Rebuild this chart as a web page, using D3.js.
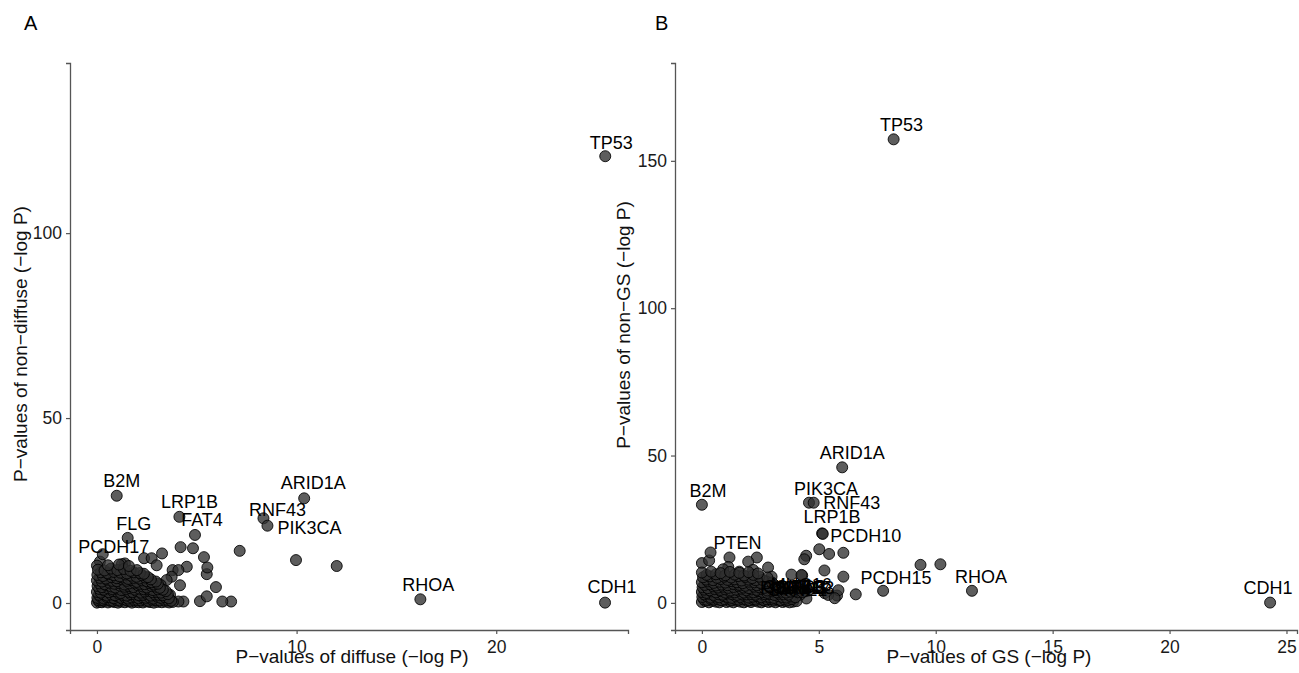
<!DOCTYPE html>
<html><head><meta charset="utf-8">
<script src="https://cdn.jsdelivr.net/npm/d3@7"></script>
<style>body{margin:0;background:#fff} text{font-family:"Liberation Sans",Arial,Helvetica,sans-serif}</style>
</head><body><svg id="c" width="1299" height="673"></svg>
<script>
// ---------- Panel A data ----------
const genesA = ["TP53","CDH1","RHOA","ARID1A","RNF43","PIK3CA","B2M","LRP1B","FAT4","FLG","PCDH17"];
const diffuseA = [25.46,25.45,16.2,10.38,8.34,8.54,0.99,4.13,4.91,1.54,0.29];
const nonDiffuseA = [120.8,0.1,1.0,28.3,22.9,20.9,29.0,23.3,18.4,17.6,13.2];
const backgroundA = [
 [7.15,14.1],[9.97,11.6],[12.01,10.0],[6.72,0.4],[6.28,0.4],[5.16,0.5],[5.5,1.8],[5.96,4.3],[5.5,7.8],[5.53,9.6],
 [5.36,12.4],[4.81,14.8],[4.19,15.1],[4.5,9.8],[3.79,8.9],[4.08,8.9],[4.16,4.8],[4.33,0.4],[4.08,0.4],[3.66,2.2],
 [3.74,7.1],[3.49,6.2],[3.19,4.9],[3.26,13.4],[2.36,12.1],[2.74,12.1],[2.99,10.2],[0.15,11.2],[0.0,10.1],[1.4,10.7],[1.25,10.5],
 [0.0,0.1],[0.12,0.3],[0.25,0.2],[0.4,0.5],[0.55,0.15],[0.72,0.4],[0.88,0.25],[1.05,0.1],[1.22,0.35],[1.4,0.2],[1.58,0.45],[1.75,0.1],
 [1.93,0.3],[2.1,0.2],[2.3,0.15],[2.48,0.4],[2.66,0.25],[2.85,0.1],[3.05,0.3],[3.25,0.2],[3.45,0.35],[3.62,0.15],[3.8,0.3],
 [0.06,0.8],[0.2,0.9],[0.33,0.7],[0.48,1.0],[0.63,0.8],[0.8,0.6],[0.96,0.9],[1.13,0.7],[1.3,1.0],[1.48,0.8],[1.66,0.6],
 [1.84,0.9],[2.02,0.8],[2.2,0.7],[2.39,1.0],[2.57,0.6],[2.76,0.9],[2.95,0.8],[3.15,0.7],[3.35,0.9],[3.55,0.8],[3.72,0.6],
 [0.02,1.4],[0.18,1.7],[0.34,1.2],[0.5,1.6],[0.68,1.5],[0.85,1.3],[1.02,1.8],[1.2,1.4],[1.38,1.6],[1.55,1.2],[1.73,1.5],
 [1.9,1.7],[2.08,1.3],[2.27,1.6],[2.45,1.4],[2.64,1.5],[2.83,1.2],[3.02,1.7],[3.2,1.4],[3.4,1.6],[3.6,1.3],
 [0.1,2.2],[0.3,2.4],[0.5,2.0],[0.7,2.3],[0.9,2.1],[1.1,2.5],[1.3,2.2],[1.5,2.0],[1.7,2.4],[1.9,2.3],[2.1,2.1],[2.3,2.2],
 [2.5,2.5],[2.7,2.0],[2.9,2.3],[3.1,2.2],[3.3,2.1],[3.55,2.4],
 [0.0,3.0],[0.2,2.8],[0.4,3.3],[0.6,2.9],[0.8,3.2],[1.0,3.1],[1.2,2.7],[1.4,3.4],[1.6,3.0],[1.8,2.9],[2.0,3.2],[2.2,2.8],
 [2.4,3.1],[2.6,3.3],[2.8,2.9],[3.0,3.0],[3.2,2.8],[3.45,3.2],
 [0.12,3.8],[0.35,3.6],[0.55,4.0],[0.78,3.7],[1.0,3.9],[1.22,3.5],[1.45,3.8],[1.68,4.0],[1.9,3.6],[2.12,3.9],[2.35,3.7],
 [2.58,3.8],[2.8,3.5],[3.05,3.7],[3.3,3.6],
 [0.03,4.6],[0.25,4.3],[0.47,4.8],[0.7,4.5],[0.92,4.2],[1.15,4.7],[1.38,4.4],[1.6,4.6],[1.83,4.3],[2.05,4.8],[2.28,4.5],
 [2.5,4.2],[2.73,4.6],[2.95,4.4],[3.15,4.1],
 [0.12,5.3],[0.38,5.1],[0.62,5.5],[0.88,5.2],[1.12,5.4],[1.38,5.0],[1.62,5.3],[1.88,5.5],[2.12,5.2],[2.38,5.1],[2.62,5.4],
 [2.85,5.0],[3.05,5.2],
 [0.0,6.1],[0.25,5.8],[0.5,6.3],[0.75,6.0],[1.0,5.9],[1.25,6.4],[1.5,6.0],[1.75,6.2],[2.0,5.7],[2.25,6.1],[2.5,5.9],[2.75,5.6],[2.95,5.8],
 [0.15,6.8],[0.45,6.6],[0.72,7.0],[1.0,6.7],[1.28,6.9],[1.56,6.5],[1.84,6.8],[2.12,6.6],[2.4,6.9],[2.7,6.4],
 [0.02,7.6],[0.3,7.3],[0.58,7.8],[0.86,7.5],[1.14,7.2],[1.42,7.7],[1.7,7.4],[1.98,7.1],[2.26,7.5],[2.55,7.0],
 [0.2,8.3],[0.52,8.1],[0.85,8.4],[1.18,8.2],[1.5,8.0],[1.84,8.3],[2.15,8.1],[2.35,7.9],
 [0.05,9.0],[0.38,8.8],[0.7,9.3],[1.02,8.9],[1.35,9.2],[1.68,8.7],[2.0,8.9],[0.55,10.2],[1.1,10.4],[1.6,10.0]
];
const xTicksA = [0,10,20];
const yTicksA = [0,50,100];

// ---------- Panel B data ----------
const genesB = ["TP53","CDH1","RHOA","ARID1A","PIK3CA","RNF43","B2M","LRP1B","PCDH10","PTEN","PCDH15"];
const gsB = [8.2,24.3,11.55,6.0,4.58,4.78,0.0,5.14,5.17,0.37,7.75];
const nonGsB = [157.3,0.1,4.1,46.0,34.0,34.0,33.3,23.6,23.4,17.1,4.1];
const crowdGenesB = ["FAT4","CSMD3","SYNE1","MUC16","ERBB3","FLG","PCDH17","KRAS"];
const crowdGsB = [3.8,3.95,4.1,4.25,4.4,4.55,4.0,4.3];
const crowdNonGsB = [3.8,4.0,3.6,4.4,3.9,4.2,4.1,3.7];
const backgroundB = [
 [6.05,17.0],[6.05,8.9],[5.44,16.6],[5.02,18.2],[5.24,11.0],[4.46,16.0],[4.38,14.8],[4.29,9.3],[3.83,9.6],[4.26,9.5],
 [5.78,2.5],[5.84,4.3],[4.47,1.5],[5.25,3.3],[5.4,2.7],[5.68,1.6],[6.58,2.9],[9.35,12.9],[10.2,13.1],[0.0,13.5],
 [1.18,15.4],[2.35,15.4],[0.31,14.4],[1.98,14.0],[2.83,12.0],[2.98,8.9],[1.6,10.6],[1.13,12.2],[0.91,11.4],[2.19,11.2],[4.19,2.7],[3.9,0.4],
 [0.0,0.3],[0.15,0.6],[0.3,0.2],[0.45,0.7],[0.6,0.4],[0.75,0.2],[0.9,0.8],[1.05,0.3],[1.2,0.5],[1.35,0.2],[1.5,0.7],[1.65,0.4],
 [1.8,0.2],[1.95,0.6],[2.1,0.3],[2.25,0.8],[2.4,0.4],[2.55,0.2],[2.7,0.6],[2.85,0.3],[3.0,0.5],[3.15,0.2],[3.3,0.7],[3.45,0.3],
 [3.6,0.5],[3.75,0.2],[4.05,0.6],
 [0.08,1.2],[0.22,1.0],[0.37,1.4],[0.52,1.1],[0.68,1.3],[0.83,0.9],[0.98,1.2],[1.13,1.5],[1.28,1.0],[1.43,1.3],[1.58,1.1],
 [1.73,1.4],[1.88,1.2],[2.03,0.9],[2.18,1.3],[2.33,1.1],[2.48,1.5],[2.63,1.0],[2.78,1.2],[2.93,1.4],[3.08,1.1],[3.23,1.3],
 [3.38,0.9],[3.53,1.2],[3.68,1.0],[3.85,1.3],
 [0.02,2.0],[0.2,2.3],[0.38,1.8],[0.56,2.2],[0.74,1.9],[0.92,2.4],[1.1,2.0],[1.28,1.7],[1.46,2.2],[1.64,2.0],[1.82,2.5],[2.0,1.8],
 [2.18,2.1],[2.36,2.3],[2.54,1.9],[2.72,2.2],[2.9,2.0],[3.08,1.7],[3.26,2.3],[3.44,2.0],[3.62,1.8],[3.8,2.2],[4.0,1.9],
 [0.1,2.9],[0.3,3.1],[0.5,2.7],[0.7,3.0],[0.9,2.8],[1.1,3.2],[1.3,2.9],[1.5,2.7],[1.7,3.1],[1.9,2.9],[2.1,3.0],[2.3,2.8],
 [2.5,3.2],[2.7,2.9],[2.9,3.0],[3.1,2.7],[3.3,3.1],[3.5,2.9],[3.7,2.8],
 [0.0,3.7],[0.2,3.4],[0.4,3.9],[0.6,3.6],[0.8,4.0],[1.0,3.5],[1.2,3.8],[1.4,3.6],[1.6,4.1],[1.8,3.5],[2.0,3.8],[2.2,3.6],
 [2.4,4.0],[2.6,3.7],[2.8,3.4],[3.0,3.9],[3.2,3.6],[3.4,3.8],[3.6,3.5],
 [0.1,4.5],[0.33,4.3],[0.55,4.7],[0.78,4.4],[1.0,4.6],[1.23,4.2],[1.45,4.5],[1.68,4.8],[1.9,4.3],[2.13,4.6],[2.35,4.4],
 [2.58,4.7],[2.8,4.2],[3.02,4.5],[3.25,4.4],[3.5,4.6],
 [0.03,5.3],[0.25,5.0],[0.47,5.6],[0.69,5.2],[0.91,5.5],[1.13,5.1],[1.35,5.4],[1.57,5.7],[1.79,5.2],[2.01,5.0],[2.23,5.5],
 [2.45,5.3],[2.67,5.1],[2.89,5.6],[3.1,5.2],[3.35,5.4],
 [0.12,6.1],[0.36,6.3],[0.6,5.9],[0.85,6.2],[1.1,6.0],[1.35,6.4],[1.6,6.1],[1.85,5.8],[2.1,6.2],[2.35,6.0],[2.6,6.3],[2.85,5.9],[3.1,6.1],
 [0.0,7.0],[0.25,7.3],[0.5,6.8],[0.75,7.2],[1.0,6.9],[1.25,7.4],[1.5,7.0],[1.75,6.7],[2.0,7.2],[2.25,7.0],[2.5,6.8],[2.75,7.3],[3.0,6.9],
 [0.18,7.9],[0.48,7.7],[0.8,8.1],[1.1,7.8],[1.4,8.0],[1.7,7.6],[2.0,7.9],[2.3,7.7],[2.6,7.8],
 [0.05,8.7],[0.35,9.0],[0.65,8.5],[0.95,8.9],[1.25,8.6],[1.55,9.1],[1.85,8.8],[2.15,8.4],[2.45,8.9],[2.8,8.6],
 [0.2,9.5],[0.6,9.7],[1.0,9.4],[1.4,9.6],[1.8,9.3],[2.2,9.5],
 [0.0,10.3],[0.4,10.6],[0.8,10.1],[1.2,10.5],[1.6,10.2],[2.0,10.4],[2.4,10.0]
];
const xTicksB = [0,5,10,15,20,25];
const yTicksB = [0,50,100,150];

// ---------- layout / style (not data) ----------
const offsA = {TP53:[6,-7],CDH1:[7,-10],RHOA:[8,-8],ARID1A:[9,-9],RNF43:[14,-2],PIK3CA:[42,8],B2M:[5,-9],LRP1B:[10,-9],FAT4:[7,-9],FLG:[6,-8],PCDH17:[11,-1]};
const offsB = {TP53:[8,-8],CDH1:[-2,-9],RHOA:[9,-8],ARID1A:[10,-8],PIK3CA:[17,-8],RNF43:[38,6],B2M:[6,-8],LRP1B:[10,-10],PCDH10:[43,8],PTEN:[27,-3],PCDH15:[13,-7],
  FAT4:[0,3],CSMD3:[0,2],SYNE1:[0,4],MUC16:[0,1],ERBB3:[0,3],FLG:[0,2],PCDH17:[0,3],KRAS:[0,2]};

const svg = d3.select("#c");
const R = 5.5;

function panel(o){
  const x = d3.scaleLinear().domain(o.xd).range(o.xr);
  const y = d3.scaleLinear().domain(o.yd).range([630,63]);
  const g = svg.append("g");
  const ax = g.append("g").attr("transform","translate(0,630)")
    .call(d3.axisBottom(x).tickValues(o.xt).tickSizeOuter(0).tickSize(4).tickPadding(4).tickFormat(d3.format("d")));
  const ay = g.append("g").attr("transform",`translate(${o.xr[0]},0)`)
    .call(d3.axisLeft(y).tickValues(o.yt).tickSizeOuter(0).tickSize(4).tickPadding(4).tickFormat(d3.format("d")));
  [ax,ay].forEach(a=>{
    a.select(".domain").attr("stroke","#555").attr("stroke-width",1.3);
    a.selectAll(".tick line").attr("stroke","#555").attr("stroke-width",1.2);
    a.selectAll(".tick text").attr("fill","#1a1a1a").style("font-size","17.5px");
  });
  ax.selectAll(".tick text").attr("dy","0.85em");
  const pts = o.bg.concat(o.lx.map((v,i)=>[v,o.ly[i]]));
  g.append("g").selectAll("circle").data(pts).join("circle")
    .attr("cx",d=>x(d[0])).attr("cy",d=>y(d[1])).attr("r",R)
    .attr("fill","#303030").attr("fill-opacity",0.78)
    .attr("stroke","#000").attr("stroke-opacity",0.85).attr("stroke-width",1);
  g.append("g").selectAll("text").data(o.lg).join("text")
    .attr("x",(d,i)=>x(o.lx[i])+o.off[d][0]).attr("y",(d,i)=>y(o.ly[i])+o.off[d][1])
    .attr("text-anchor","middle").style("font-size","18px").attr("fill","#000").text(d=>d);
  g.append("text").attr("x",(o.xr[0]+o.xr[1])/2+3).attr("y",663).attr("text-anchor","middle")
    .style("font-size","19px").attr("fill","#111").text(o.xt_title);
  g.append("text").attr("transform",`translate(${o.ytx},${o.yty}) rotate(-90)`).attr("text-anchor","middle")
    .style("font-size","19px").attr("fill","#111").text(o.yt_title);
  g.append("text").attr("x",o.lab[0]).attr("y",o.lab[1]).style("font-size","20px").text(o.letter);
}

panel({xd:[-1.35,26.6], xr:[70,628], yd:[-7.3,146], xt:xTicksA, yt:yTicksA,
  bg:backgroundA, lg:genesA, lx:diffuseA, ly:nonDiffuseA, off:offsA,
  xt_title:"P\u2212values of diffuse (\u2212log P)", yt_title:"P\u2212values of non\u2212diffuse (\u2212log P)",
  ytx:27, yty:344, lab:[24,30], letter:"A"});

panel({xd:[-1.15,25.45], xr:[675,1297], yd:[-9.2,183.2], xt:xTicksB, yt:yTicksB,
  bg:backgroundB, lg:genesB.concat(crowdGenesB), lx:gsB.concat(crowdGsB), ly:nonGsB.concat(crowdNonGsB), off:offsB,
  xt_title:"P\u2212values of GS (\u2212log P)", yt_title:"P\u2212values of non\u2212GS (\u2212log P)",
  ytx:630, yty:325, lab:[655,30], letter:"B"});
</script></body></html>
